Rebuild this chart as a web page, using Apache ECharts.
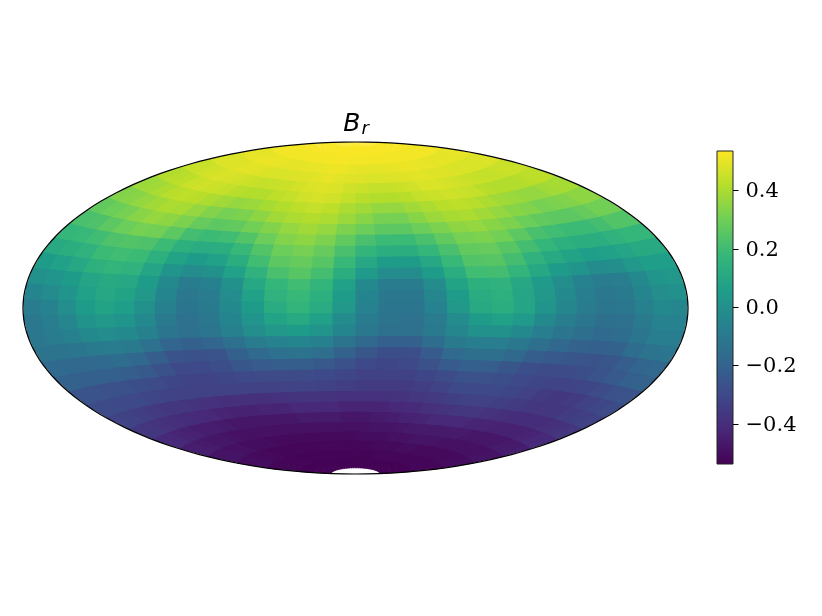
<!DOCTYPE html>
<html><head><meta charset="utf-8">
<style>html,body{margin:0;padding:0;background:#fff}#c{width:822px;height:616px}</style>
<script src="https://cdn.jsdelivr.net/npm/echarts@6/dist/echarts.min.js"></script>
</head><body><div id="c"></div>
<script>
const latEdges=[90,86.25,80.7,75.15,69.6,64.05,58.5,52.95,47.4,41.85,36.3,30.75,25.2,19.65,14.1,8.55,3,-2.55,-8.1,-13.65,-19.2,-24.75,-30.3,-35.85,-41.4,-46.95,-52.5,-58.05,-63.6,-69.15,-74.7,-80.25,-85.8];
const lonEdges=[-180,-168.75,-157.5,-146.25,-135,-123.75,-112.5,-101.25,-90,-78.75,-67.5,-56.25,-45,-33.75,-22.5,-11.25,0,11.25,22.5,33.75,45,56.25,67.5,78.75,90,101.25,112.5,123.75,135,146.25,157.5,168.75,180];
const colorbarTicks=[-0.4,-0.2,0,0.2,0.4];
const colorRange=[-0.538,0.534];
const viridis=['#440154','#482878','#3e4989','#31688e','#26828e','#1f9e89','#35b779','#6ece58','#b5de2b','#fde725'];
const Br=[
[.53,.53,.53,.53,.53,.53,.53,.53,.53,.53,.53,.53,.53,.53,.53,.53,.53,.53,.53,.53,.53,.53,.53,.53,.53,.53,.53,.53,.53,.53,.53,.53],
[.525,.525,.525,.525,.525,.525,.525,.525,.525,.525,.525,.525,.525,.525,.525,.525,.525,.525,.525,.525,.525,.525,.525,.525,.525,.525,.525,.525,.525,.525,.525,.525],
[.515,.515,.515,.515,.515,.515,.515,.515,.515,.515,.515,.515,.52,.52,.52,.515,.515,.515,.515,.515,.515,.515,.515,.515,.515,.515,.515,.515,.515,.515,.515,.515],
[.495,.495,.50,.50,.505,.505,.50,.495,.495,.495,.50,.50,.505,.51,.505,.50,.495,.495,.495,.495,.50,.505,.505,.50,.50,.495,.495,.495,.495,.495,.50,.50],
[.475,.48,.48,.485,.49,.49,.485,.475,.475,.475,.48,.485,.49,.50,.49,.485,.48,.475,.475,.48,.485,.49,.49,.485,.485,.48,.475,.475,.475,.475,.48,.48],
[.445,.45,.46,.47,.475,.47,.46,.45,.44,.445,.45,.465,.475,.485,.475,.46,.45,.44,.44,.45,.46,.475,.475,.47,.46,.45,.445,.44,.44,.45,.45,.45],
[.41,.42,.43,.45,.46,.45,.44,.42,.41,.41,.43,.44,.46,.47,.46,.44,.42,.41,.41,.42,.44,.45,.46,.45,.44,.42,.41,.41,.41,.42,.43,.43],
[.37,.38,.40,.42,.43,.42,.40,.38,.36,.37,.39,.41,.43,.44,.43,.40,.38,.36,.36,.38,.40,.42,.43,.42,.40,.38,.37,.36,.36,.38,.39,.39],
[.33,.34,.36,.38,.40,.39,.36,.33,.31,.32,.35,.38,.40,.41,.40,.37,.34,.31,.31,.34,.37,.39,.40,.38,.36,.34,.33,.31,.32,.33,.35,.35],
[.27,.29,.31,.34,.36,.35,.32,.28,.26,.27,.30,.33,.36,.38,.36,.32,.29,.26,.26,.29,.32,.35,.36,.34,.32,.29,.27,.26,.26,.28,.30,.30],
[.22,.23,.26,.29,.31,.30,.26,.21,.19,.20,.24,.29,.33,.35,.32,.27,.22,.19,.19,.22,.27,.31,.32,.30,.26,.22,.20,.19,.19,.21,.24,.24],
[.17,.18,.20,.23,.24,.23,.19,.14,.12,.13,.18,.24,.29,.31,.28,.22,.16,.13,.13,.17,.22,.27,.28,.25,.21,.17,.14,.13,.13,.15,.17,.17],
[.11,.13,.15,.19,.20,.19,.14,.08,.05,.07,.13,.20,.26,.28,.25,.18,.10,.05,.05,.10,.18,.24,.25,.21,.15,.11,.08,.06,.07,.09,.11,.11],
[.05,.07,.10,.14,.16,.15,.09,.02,-.02,.00,.07,.15,.22,.25,.21,.13,.04,-.02,-.02,.05,.13,.20,.21,.16,.10,.05,.02,-.02,-.01,.03,.06,.06],
[.00,.02,.05,.09,.11,.10,.05,-.03,-.09,-.07,.00,.10,.17,.20,.16,.07,-.03,-.09,-.09,-.02,.08,.14,.15,.10,.04,-.01,-.06,-.09,-.08,-.03,.02,.03],
[-.05,-.02,.02,.07,.10,.08,.03,-.05,-.11,-.09,-.02,.07,.15,.18,.14,.05,-.05,-.11,-.11,-.04,.05,.12,.14,.09,.03,-.03,-.08,-.11,-.10,-.05,-.01,.00],
[-.09,-.06,-.01,.05,.08,.06,.00,-.07,-.12,-.10,-.03,.05,.12,.16,.12,.03,-.06,-.12,-.12,-.06,.03,.11,.13,.09,.02,-.04,-.09,-.12,-.11,-.07,-.03,-.04],
[-.11,-.08,-.04,.01,.03,.02,-.03,-.10,-.14,-.11,-.05,.02,.08,.11,.07,-.02,-.09,-.13,-.14,-.09,-.02,.05,.07,.04,-.03,-.08,-.12,-.15,-.14,-.10,-.06,-.06],
[-.11,-.09,-.07,-.03,-.02,-.03,-.07,-.12,-.14,-.12,-.07,-.01,.03,.05,.02,-.05,-.11,-.14,-.14,-.10,-.04,.00,.00,-.03,-.08,-.12,-.15,-.17,-.16,-.12,-.08,-.08],
[-.13,-.13,-.12,-.10,-.09,-.10,-.14,-.19,-.21,-.19,-.14,-.09,-.06,-.05,-.07,-.13,-.18,-.21,-.21,-.16,-.10,-.08,-.08,-.11,-.15,-.18,-.20,-.21,-.20,-.16,-.13,-.12],
[-.17,-.18,-.18,-.17,-.16,-.18,-.22,-.26,-.27,-.26,-.21,-.17,-.14,-.13,-.15,-.20,-.25,-.28,-.28,-.23,-.17,-.15,-.15,-.18,-.22,-.24,-.25,-.26,-.25,-.22,-.19,-.18],
[-.20,-.21,-.21,-.21,-.22,-.24,-.27,-.30,-.30,-.28,-.25,-.23,-.22,-.22,-.24,-.27,-.30,-.31,-.30,-.27,-.23,-.21,-.22,-.25,-.28,-.29,-.29,-.28,-.26,-.24,-.21,-.20],
[-.26,-.26,-.27,-.27,-.28,-.29,-.31,-.32,-.32,-.31,-.30,-.29,-.29,-.29,-.30,-.31,-.33,-.33,-.33,-.31,-.29,-.27,-.27,-.28,-.30,-.31,-.32,-.32,-.31,-.29,-.27,-.26],
[-.29,-.29,-.30,-.30,-.31,-.32,-.33,-.33,-.33,-.33,-.33,-.33,-.32,-.32,-.33,-.34,-.35,-.35,-.35,-.34,-.32,-.30,-.30,-.30,-.31,-.33,-.35,-.36,-.35,-.33,-.31,-.29],
[-.32,-.33,-.34,-.35,-.36,-.37,-.375,-.385,-.39,-.39,-.39,-.385,-.375,-.375,-.38,-.385,-.385,-.385,-.38,-.37,-.355,-.335,-.325,-.325,-.335,-.35,-.365,-.37,-.36,-.345,-.335,-.325],
[-.36,-.37,-.38,-.39,-.40,-.41,-.42,-.43,-.44,-.44,-.43,-.43,-.42,-.42,-.42,-.43,-.43,-.43,-.42,-.41,-.39,-.38,-.37,-.37,-.38,-.39,-.40,-.40,-.40,-.39,-.38,-.37],
[-.41,-.42,-.43,-.44,-.45,-.45,-.46,-.47,-.47,-.47,-.47,-.47,-.46,-.46,-.46,-.47,-.47,-.46,-.45,-.44,-.43,-.42,-.42,-.42,-.43,-.43,-.44,-.44,-.44,-.43,-.42,-.41],
[-.45,-.45,-.46,-.47,-.47,-.48,-.49,-.49,-.49,-.49,-.49,-.49,-.49,-.49,-.49,-.49,-.49,-.48,-.48,-.47,-.46,-.46,-.46,-.46,-.46,-.47,-.47,-.47,-.47,-.46,-.46,-.45],
[-.48,-.48,-.48,-.49,-.49,-.50,-.50,-.50,-.51,-.51,-.51,-.51,-.51,-.51,-.51,-.51,-.50,-.50,-.50,-.49,-.49,-.48,-.48,-.48,-.49,-.49,-.49,-.49,-.49,-.49,-.48,-.48],
[-.50,-.50,-.50,-.51,-.51,-.51,-.52,-.52,-.52,-.52,-.52,-.52,-.52,-.52,-.52,-.52,-.52,-.52,-.51,-.51,-.51,-.50,-.50,-.51,-.51,-.51,-.51,-.51,-.51,-.51,-.50,-.50],
[-.52,-.52,-.52,-.52,-.52,-.52,-.52,-.525,-.525,-.525,-.525,-.525,-.525,-.525,-.525,-.525,-.525,-.525,-.525,-.52,-.52,-.52,-.52,-.52,-.52,-.52,-.52,-.52,-.52,-.52,-.52,-.52],
[-.53,-.53,-.53,-.53,-.53,-.53,-.53,-.53,-.53,-.53,-.53,-.53,-.53,-.53,-.53,-.53,-.53,-.53,-.53,-.53,-.53,-.53,-.53,-.53,-.53,-.53,-.53,-.53,-.53,-.53,-.53,-.53]
];

const RAD=Math.PI/180;
function hammer(lon,lat){
  const p=lat*RAD,l=lon*RAD/2,d=Math.sqrt(1+Math.cos(p)*Math.cos(l));
  return [2*Math.SQRT2*Math.cos(p)*Math.sin(l)/d, Math.SQRT2*Math.sin(p)/d];
}
const cells=[];
Br.forEach((row,r)=>row.forEach((v,c)=>cells.push([r,c,v])));

function cellItem(params,api){
  const r=api.value(0),c=api.value(1);
  const lonA=lonEdges[c],latA=latEdges[r];
  // each cell runs a little under its right and lower neighbours, which paint over it: no seams
  const lonB=c+1<lonEdges.length-1?lonEdges[c+1]+4:180;
  const latB=r+1<latEdges.length-1?latEdges[r+1]-2:latEdges[r+1];
  const pts=[],n=5;
  for(let i=0;i<=n;i++)pts.push(api.coord(hammer(lonA+(lonB-lonA)*i/n,latA)));
  for(let i=n;i>=0;i--)pts.push(api.coord(hammer(lonA+(lonB-lonA)*i/n,latB)));
  const col=api.visual('color');
  const style=r>=29?{fill:col,stroke:col,lineWidth:0.6}:{fill:col};
  return {type:'polygon',shape:{points:pts},style};
}
function outlineItem(params,api){
  const pts=[];
  for(let lat=-90;lat<=90;lat+=2)pts.push(api.coord(hammer(180,lat)));
  for(let lat=90;lat>=-90;lat-=2)pts.push(api.coord(hammer(-180,lat)));
  return {type:'polygon',shape:{points:pts},style:{fill:'none',stroke:'#000',lineWidth:1.25}};
}
function colorbarItem(params,api){
  const a=api.coord([0,colorRange[1]]),b=api.coord([1,colorRange[0]]);
  const stops=viridis.map((c,i)=>({offset:1-i/(viridis.length-1),color:c}));
  return {type:'rect',shape:{x:a[0],y:a[1],width:b[0]-a[0],height:b[1]-a[1]},
    style:{fill:new echarts.graphic.LinearGradient(0,0,0,1,stops.reverse()),stroke:'#222',lineWidth:1}};
}
function tickItem(params,api){
  const v=api.value(1),p=api.coord([1,v]),y=Math.round(p[1])+0.5;
  return {type:'group',children:[
    {type:'line',shape:{x1:p[0],y1:y,x2:p[0]+5.5,y2:y},style:{stroke:'#000',lineWidth:1}},
    {type:'text',x:p[0]+12.5,y:y+1,style:{text:(v<0?'\u2212':'')+Math.abs(v).toFixed(1),fontFamily:'DejaVu Serif',fontSize:21,fill:'#000',align:'left',verticalAlign:'middle'}}
  ]};
}
const chart=echarts.init(document.getElementById('c'),null,{renderer:'canvas'});
chart.setOption({
  animation:false,
  backgroundColor:'#fff',
  title:{text:'{b|B}{r|r}',left:351,top:105,textAlign:'center',
    textStyle:{fontWeight:'normal',rich:{
      b:{fontFamily:'DejaVu Sans',fontStyle:'italic',fontWeight:'normal',fontSize:25,color:'#000'},
      r:{fontFamily:'DejaVu Sans',fontStyle:'italic',fontWeight:'normal',fontSize:18,color:'#000',verticalAlign:'bottom',padding:[10,0,0,1]}
    }}},
  grid:[{left:23,width:665,top:142,height:332,show:false},{left:717,width:16,top:151,height:313,show:false}],
  xAxis:[
    {gridIndex:0,type:'value',min:-2*Math.SQRT2,max:2*Math.SQRT2,show:false},
    {gridIndex:1,type:'value',min:0,max:1,show:false}
  ],
  yAxis:[
    {gridIndex:0,type:'value',min:-Math.SQRT2,max:Math.SQRT2,show:false},
    {gridIndex:1,type:'value',min:colorRange[0],max:colorRange[1],show:false}
  ],
  visualMap:{show:false,type:'continuous',seriesIndex:0,dimension:2,min:colorRange[0],max:colorRange[1],inRange:{color:viridis}},
  series:[
    {type:'custom',xAxisIndex:0,yAxisIndex:0,coordinateSystem:'cartesian2d',renderItem:cellItem,data:cells,clip:false,silent:true,encode:{x:[],y:[]}},
    {type:'custom',xAxisIndex:0,yAxisIndex:0,coordinateSystem:'cartesian2d',renderItem:outlineItem,data:[[0,0]],clip:false,silent:true,z:5},
    {type:'custom',xAxisIndex:1,yAxisIndex:1,coordinateSystem:'cartesian2d',renderItem:colorbarItem,data:[[0,0]],clip:false,silent:true},
    {type:'custom',xAxisIndex:1,yAxisIndex:1,coordinateSystem:'cartesian2d',renderItem:tickItem,data:colorbarTicks.map(v=>[1,v]),clip:false,silent:true}
  ]
});
</script></body></html>
